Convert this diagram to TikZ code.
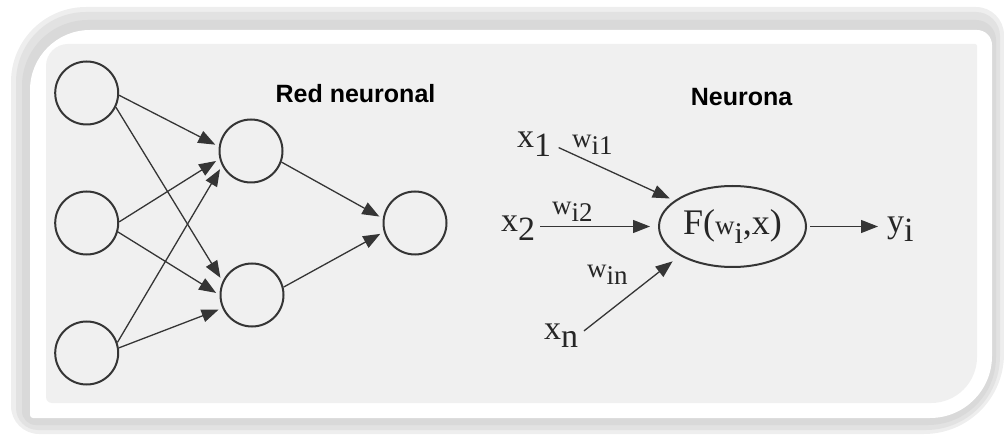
\documentclass[tikz,border=0pt]{standalone}
\usepackage{fontspec}
\setmainfont{Liberation Serif}
\newfontfamily\headfont{Liberation Sans}
\usepackage{xcolor}
\usetikzlibrary{arrows.meta,shapes.geometric}

\definecolor{shadeA}{HTML}{EEEEEE}
\definecolor{shadeB}{HTML}{E2E2E2}
\definecolor{shadeC}{HTML}{D9D9D9}
\definecolor{panel}{HTML}{F0F0F0}
\definecolor{ink}{HTML}{353535}

% box with its own radius at each corner: x0 y0 x1 y1, then TL TR BR BL
\newcommand{\cornerpath}[8]{%
  (#1,#4-#5) arc[start angle=180,end angle=90,radius=#5]
  -- (#3-#6,#4) arc[start angle=90,end angle=0,radius=#6]
  -- (#3,#2+#7) arc[start angle=0,end angle=-90,radius=#7]
  -- (#1+#8,#2) arc[start angle=270,end angle=180,radius=#8] -- cycle}
% label with a lowered, same-size index
\newcommand{\lsub}[2]{#1\raisebox{-0.24em}{#2}}

\begin{document}
\begin{tikzpicture}[
    x=1pt, y=1pt,
    >={Triangle[length=17pt,width=13pt]},
    unit/.style={draw=ink, circle, line width=2pt, minimum size=63pt, inner sep=0pt},
    conn/.style={->, line width=1.3pt, draw=ink, shorten >=4pt},
    lbl/.style={anchor=base west, inner sep=0pt, text=black!85, font=\fontsize{34}{36}\selectfont},
    wlbl/.style={anchor=base west, inner sep=0pt, text=black!85, font=\fontsize{27}{30}\selectfont},
    head/.style={anchor=base, inner sep=0pt, font=\headfont\bfseries\fontsize{25}{28}\selectfont}
]
\useasboundingbox (0,0) rectangle (1004,434);

% frame and panel
\fill[shadeA] \cornerpath{11}{0}{1004}{427}{75}{28}{80}{28};
\fill[shadeB] \cornerpath{16}{4}{1000}{422}{70}{24}{74}{22};
\fill[shadeC] \cornerpath{22}{9}{996}{414}{66}{20}{68}{14};
\fill[white] \cornerpath{30}{16}{992}{404}{60}{15}{62}{3};
\fill[panel] \cornerpath{46}{31}{977}{390}{22}{2}{46}{6};

% network
\node[head] (net) at (355.5,331.7) {Red neuronal};
\node[unit] (in1) at (86.7,341) {};
\node[unit] (in2) at (86.7,211) {};
\node[unit] (in3) at (86.7,81) {};
\node[unit] (h1) at (251,283) {};
\node[unit] (h2) at (252,139) {};
\node[unit] (out) at (415,211) {};
\foreach \s/\a/\t/\b in {in1/-4/h1/172, in1/-26/h2/155, in2/2/h1/194, in2/-16/h2/180,
                          in3/19/h1/207, in3/9/h2/204, h1/-20/out/172, h2/14/out/196}
    \draw[conn] (\s.\a) -- (\t.\b);

% single neuron
\node[head] (neu) at (741.5,328) {Neurona};
\node[draw=ink, ellipse, line width=2pt, minimum width=147pt, minimum height=81pt, inner sep=0pt,
      text=black!85, font=\fontsize{36}{40}\selectfont] (F) at (732.5,207.5)
    {F({\fontsize{27}{30}\selectfont w\raisebox{-9pt}{\fontsize{30}{30}\selectfont i}},x)};
\node[lbl] (x1) at (517,286) {\lsub{x}{1}};
\node[lbl] (x2) at (501,202) {\lsub{x}{2}};
\node[lbl] (xn) at (544,95) {\lsub{x}{n}};
\node[lbl] (y) at (887,201) {\lsub{y}{i}};
\node[wlbl] (w1) at (572,286) {\lsub{w}{i1}};
\node[wlbl] (w2) at (552,219) {\lsub{w}{i2}};
\node[wlbl] (wn) at (587,156) {\lsub{w}{in}};
\draw[conn, shorten <=8pt, shorten >=5pt] (x1.east) -- (F.156);
\draw[conn, shorten <=5pt, shorten >=8pt] (x2.east |- F.west) -- (F.west);
\draw[conn, shorten <=7pt, shorten >=9pt] (xn.east) -- (F.209);
\draw[conn, shorten <=3pt, shorten >=9pt] (F.east) -- (y.west |- F.east);
\end{tikzpicture}
\end{document}
